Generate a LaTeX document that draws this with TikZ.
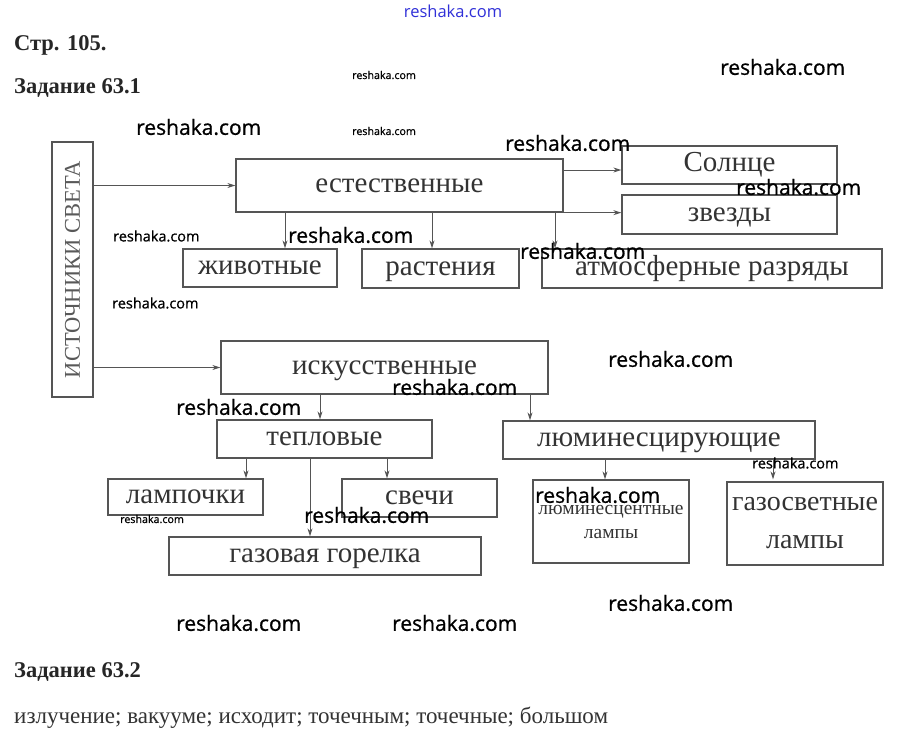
\documentclass[tikz,border=0pt]{standalone}
\usepackage{fontspec}
\setmainfont{Liberation Serif}
\newfontfamily\wm[FakeBold=0.8]{Open Sans}
\newfontfamily\wmthin{Open Sans}
\usetikzlibrary{arrows.meta,calc}
\definecolor{ln}{HTML}{555555}
\definecolor{tx}{HTML}{333333}
\definecolor{wmblue}{HTML}{3030D8}
\tikzset{
  box/.style={draw=ln, line width=1.3pt, inner sep=0pt, text=tx, font=\fontsize{29}{30}\selectfont},
  sbox/.style={box, text height=13.3pt, text depth=0pt},
  arr/.style={draw=ln, line width=1pt, -{Stealth[length=8pt,width=5pt]}},
  wmL/.style={font=\wm\fontsize{21}{21}\selectfont, text=black, inner sep=0pt, anchor=west},
  wmM/.style={font=\wm\fontsize{14.5}{14.5}\selectfont, text=black, inner sep=0pt, anchor=west},
  wmS/.style={font=\wm\fontsize{10.7}{10.7}\selectfont, text=black, inner sep=0pt, anchor=west},
  hdr/.style={font=\bfseries\fontsize{22.5}{22.5}\selectfont, text=black!85, inner sep=0pt, anchor=west},
}
\begin{document}
\begin{tikzpicture}[x=1pt,y=-1pt]
\useasboundingbox[fill=white] (0,0) rectangle (904,742);
% headers
\node[hdr] (h1) at (14,45) {Стр. 105.};
\node[hdr] (h2) at (14,88) {Задание 63.1};
\node[hdr] (h3) at (14,672) {Задание 63.2};
\node[font=\fontsize{23}{23}\selectfont, text=black!80, inner sep=0pt, anchor=west] (ans) at (14,718) {излучение; вакууме; исходит; точечным; точечные; большом};
% boxes
\node[box, minimum width=41, minimum height=255, font=\fontsize{22.5}{23}\selectfont, text=black!65] (src) at (72.5,269.5) {\rotatebox{90}{ИСТОЧНИКИ СВЕТА}};
\node[sbox, minimum width=327, minimum height=53] (est) at (399.5,185.5) {естественные};
\node[sbox, minimum width=215, minimum height=38] (sun) at (729.5,165) {Солнце};
\node[sbox, minimum width=215, minimum height=39] (zv) at (729.5,214.5) {звезды};
\node[sbox, minimum width=154, minimum height=38] (anim) at (260,268) {животные};
\node[sbox, minimum width=157, minimum height=39] (rast) at (440.5,268.5) {растения};
\node[sbox, minimum width=340, minimum height=39] (atm) at (712,268.5) {атмосферные разряды};
\node[sbox, minimum width=327, minimum height=53] (isk) at (384.5,367.5) {искусственные};
\node[sbox, minimum width=215, minimum height=38] (tep) at (324.5,439) {тепловые};
\node[sbox, minimum width=312, minimum height=38] (lum) at (659,440) {люминесцирующие};
\node[sbox, minimum width=155, minimum height=36] (lamp) at (185.5,497) {лампочки};
\node[sbox, minimum width=155, minimum height=38] (svech) at (419.5,498) {свечи};
\node[sbox, minimum width=312, minimum height=38] (gaz) at (325,556) {газовая горелка};
\node[box, minimum width=156, minimum height=83, align=center, font=\fontsize{19.5}{24}\selectfont] (lumL) at (611,521.5) {люминесцентные\\лампы};
\node[box, minimum width=156, minimum height=83, align=center, font=\fontsize{28}{38}\selectfont] (gasL) at (805,523.5) {газосветные\\лампы};
% connectors
\draw[arr] (src.east |- est.west) -- (est.west);
\draw[arr] (src.east |- isk.west) -- (isk.west);
\coordinate (c1) at ([yshift=-5pt]sun.west);
\draw[arr] (est.east |- c1) -- (c1);
\draw[arr] (est.south east) -- (est.south east -| zv.west);
\coordinate (d1) at (285,0);
\coordinate (d2) at (432,0);
\coordinate (d3) at (555,0);
\draw[arr] (est.south -| d1) -- (anim.north -| d1);
\draw[arr] (est.south -| d2) -- (rast.north -| d2);
\draw[arr] (est.south -| d3) -- (atm.north -| d3);
\coordinate (e1) at (320,0);
\coordinate (e2) at (530,0);
\draw[arr] (isk.south -| e1) -- (tep.north -| e1);
\draw[arr] (isk.south -| e2) -- (lum.north -| e2);
\coordinate (f1) at (246,0);
\coordinate (f2) at (310,0);
\coordinate (f3) at (387,0);
\draw[arr] (tep.south -| f1) -- (lamp.north -| f1);
\draw[arr] (tep.south -| f2) -- (gaz.north -| f2);
\draw[arr] (tep.south -| f3) -- (svech.north -| f3);
\coordinate (g1) at (605,0);
\coordinate (g2) at (773,0);
\draw[arr] (lum.south -| g1) -- (lumL.north -| g1);
\draw[arr] (lum.south -| g2) -- ([yshift=2pt]gasL.north -| g2);
% watermarks
\node[font=\wmthin\fontsize{16.5}{16.5}\selectfont, text=wmblue, inner sep=0pt] (w0) at (453,11) {reshaka.com};
\node[wmS] (w1) at (352,75) {reshaka.com};
\node[wmL] (w2) at (720,67) {reshaka.com};
\node[wmL] (w3) at (136,127) {reshaka.com};
\node[wmS] (w4) at (352,131) {reshaka.com};
\node[wmL] (w5) at (505,143) {reshaka.com};
\node[wmL] (w6) at (736,187) {reshaka.com};
\node[wmM] (w7) at (113,236) {reshaka.com};
\node[wmL] (w8) at (288,235) {reshaka.com};
\node[wmL] (w9) at (520,251) {reshaka.com};
\node[wmM] (w10) at (112,303) {reshaka.com};
\node[wmL] (w11) at (608,359) {reshaka.com};
\node[wmL] (w12) at (392,387) {reshaka.com};
\node[wmL] (w13) at (176,407) {reshaka.com};
\node[wmM] (w14) at (752,463) {reshaka.com};
\node[wmL] (w15) at (535,495) {reshaka.com};
\node[wmS] (w16) at (120,519) {reshaka.com};
\node[wmL] (w17) at (304,515) {reshaka.com};
\node[wmL] (w18) at (608,603) {reshaka.com};
\node[wmL] (w19) at (176,623) {reshaka.com};
\node[wmL] (w20) at (392,623) {reshaka.com};
\end{tikzpicture}
\end{document}
